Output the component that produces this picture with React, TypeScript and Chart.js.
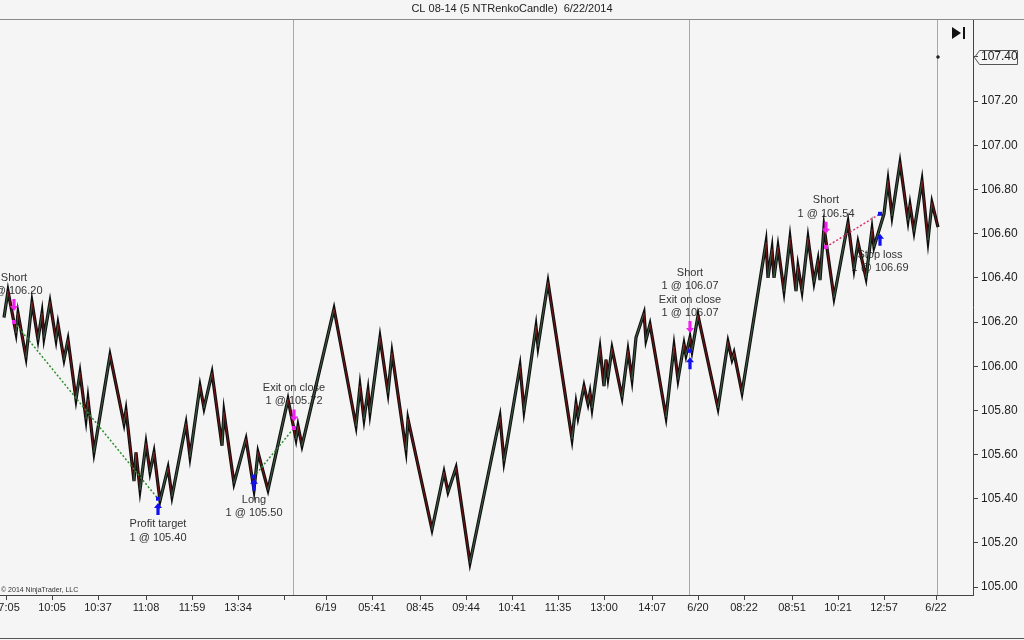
import React, { useEffect, useRef } from 'react';
import { Chart, registerables } from 'chart.js';

Chart.register(...registerables);

const TITLE = 'CL 08-14 (5 NTRenkoCandle)  6/22/2014';
const COPYRIGHT = '\u00A9 2014 NinjaTrader, LLC';

// Renko swing turning points: bar index and price
const swingBars = [
  2, 4, 8, 9, 13, 16, 19, 21, 22, 25, 28, 29, 32, 34, 38, 40, 43, 44, 47,
  55, 62, 63, 67, 68, 70, 73, 75, 77, 80, 84, 86, 93, 95, 100, 102, 106, 111,
  112, 117, 123, 127, 129, 134, 144, 148, 149, 151, 167, 178, 180, 182, 184,
  185, 190, 194, 196, 203, 204, 216, 222, 224, 228, 235, 250, 252, 260, 262,
  268, 269, 274, 286, 288, 289, 292, 294, 295, 296, 300, 302, 303, 304, 306,
  311, 314, 316, 318, 322, 323, 325, 333, 337, 339, 342, 343, 345, 346, 349,
  359, 364, 366, 367, 371, 383, 384, 386, 387, 389, 392, 395, 398, 399, 401,
  404, 407, 409, 410, 412, 417, 424, 427, 429, 433, 436, 437, 442, 444, 446,
  450, 454, 455, 457, 461, 464, 466, 469,
];
const swingPrices = [
  106.22, 106.34, 106.15, 106.24, 106.04, 106.29, 106.12, 106.24, 106.13,
  106.29, 106.12, 106.19, 106.03, 106.12, 105.85, 105.97, 105.76, 105.85,
  105.61, 106.05, 105.74, 105.8, 105.48, 105.61, 105.44, 105.65, 105.52,
  105.61, 105.39, 105.54, 105.41, 105.74, 105.59, 105.91, 105.81, 105.97,
  105.64, 105.79, 105.47, 105.67, 105.44, 105.61, 105.44, 105.85, 105.67,
  105.73, 105.64, 106.26, 105.73, 105.91, 105.76, 105.89, 105.79, 106.13,
  105.88, 106.06, 105.62, 105.76, 105.26, 105.52, 105.43, 105.54, 105.11,
  105.77, 105.57, 106.0, 105.8, 106.18, 106.09, 106.38, 105.67, 105.83,
  105.77, 105.91, 105.83, 105.88, 105.81, 106.08, 105.91, 106.03, 105.95,
  106.08, 105.86, 106.07, 105.94, 106.13, 106.24, 106.12, 106.19, 105.77,
  106.09, 105.94, 106.1, 106.05, 106.13, 106.07, 106.23, 105.81, 106.11,
  106.03, 106.06, 105.88, 106.56, 106.4, 106.53, 106.4, 106.54, 106.34,
  106.58, 106.34, 106.45, 106.34, 106.58, 106.38, 106.48, 106.39, 106.63,
  106.31, 106.65, 106.44, 106.56, 106.4, 106.62, 106.54, 106.69, 106.84,
  106.68, 106.92, 106.66, 106.73, 106.61, 106.84, 106.57, 106.74, 106.63,
];

const lastBar = 469;
const lastPrice = 107.4;

const yTickValues = [105.0, 105.2, 105.4, 105.6, 105.8, 106.0, 106.2, 106.4, 106.6, 106.8, 107.0, 107.2, 107.4];
const xTickBars = [3, 26, 49, 73, 96, 119, 142, 163, 186, 210, 233, 256, 279, 302, 326, 349, 372, 396, 419, 442, 468];
const xTickLabels = ['17:05', '10:05', '10:37', '11:08', '11:59', '13:34', '', '6/19', '05:41', '08:45', '09:44', '10:41', '11:35', '13:00', '14:07', '6/20', '08:22', '08:51', '10:21', '12:57', '6/22'];
const sessionBreakBars = [146.5, 344.5, 468.5];

// Executions
const execBars = [7, 79, 127, 147, 345, 345, 413, 440];
const execPrices = [106.2, 105.4, 105.5, 105.72, 106.07, 106.07, 106.54, 106.69];
const execSides = ['sell', 'buy', 'buy', 'sell', 'sell', 'buy', 'sell', 'buy'];
const execAnchors = [106.25, 105.38, 105.49, 105.75, 106.15, 106.04, 106.6, 106.6];
const execTexts = [
  ['Short', '1 @ 106.20'],
  ['Profit target', '1 @ 105.40'],
  ['Long', '1 @ 105.50'],
  ['Exit on close', '1 @ 105.72'],
  ['Short', '1 @ 106.07', 'Exit on close', '1 @ 106.07'],
  [],
  ['Short', '1 @ 106.54'],
  ['Stop loss', '1 @ 106.69'],
];
// trade connections: entry index, exit index, winning?
const tradeEntries = [0, 2, 6];
const tradeExits = [1, 3, 7];
const tradeWins = [true, true, false];

const BG = '#f5f5f5';
const FONT = '"Liberation Sans", Arial, sans-serif';

const swingData = swingBars.map((b, i) => ({ x: b, y: swingPrices[i] }));

function drawArrow(ctx: CanvasRenderingContext2D, x: number, tip: number, down: boolean, color: string) {
  const d = down ? -1 : 1;
  ctx.save();
  ctx.fillStyle = color;
  ctx.beginPath();
  ctx.moveTo(x, tip);
  ctx.lineTo(x + 4, tip + d * 5);
  ctx.lineTo(x + 1.6, tip + d * 5);
  ctx.lineTo(x + 1.6, tip + d * 12);
  ctx.lineTo(x - 1.6, tip + d * 12);
  ctx.lineTo(x - 1.6, tip + d * 5);
  ctx.lineTo(x - 4, tip + d * 5);
  ctx.closePath();
  ctx.fill();
  ctx.restore();
}

const decorPlugin = {
  id: 'decor',
  beforeDraw(chart: any) {
    const { ctx, width, height } = chart;
    ctx.save();
    ctx.fillStyle = BG;
    ctx.fillRect(0, 0, width, height);
    ctx.restore();
  },
  beforeDatasetsDraw(chart: any) {
    const { ctx, chartArea } = chart;
    const xs = chart.scales.x;
    const ys = chart.scales.y;
    ctx.save();
    ctx.strokeStyle = '#a8a8a8';
    ctx.lineWidth = 1;
    sessionBreakBars.forEach((b) => {
      const px = Math.round(xs.getPixelForValue(b)) + 0.5;
      ctx.beginPath();
      ctx.moveTo(px, chartArea.top);
      ctx.lineTo(px, chartArea.bottom);
      ctx.stroke();
    });
    ctx.font = `11px ${FONT}`;
    ctx.fillStyle = '#333';
    ctx.textAlign = 'center';
    ctx.textBaseline = 'middle';
    execBars.forEach((b, i) => {
      const lines = execTexts[i];
      if (!lines.length) return;
      const x = xs.getPixelForValue(b);
      const tip = ys.getPixelForValue(execAnchors[i]);
      if (execSides[i] === 'sell') {
        const last = tip - 12 - 8;
        lines.forEach((t, k) => {
          ctx.fillText(t, x, last - (lines.length - 1 - k) * 13.3);
        });
      } else {
        const first = tip + 12 + 9;
        lines.forEach((t, k) => {
          ctx.fillText(t, x, first + k * 13.5);
        });
      }
    });
    ctx.restore();
  },
  afterDatasetsDraw(chart: any) {
    const { ctx } = chart;
    const xs = chart.scales.x;
    const ys = chart.scales.y;
    execBars.forEach((b, i) => {
      const x = xs.getPixelForValue(b);
      const tip = ys.getPixelForValue(execAnchors[i]);
      const color = execSides[i] === 'sell' ? '#f020f0' : '#1010f0';
      drawArrow(ctx, x, tip, execSides[i] === 'sell', color);
      const py = ys.getPixelForValue(execPrices[i]);
      ctx.save();
      ctx.fillStyle = color;
      ctx.fillRect(x - 2, py - 2, 4, 4);
      ctx.restore();
    });
  },
  afterDraw(chart: any) {
    const { ctx, chartArea, width, height } = chart;
    const ys = chart.scales.y;
    ctx.save();
    ctx.font = `11px ${FONT}`;
    ctx.fillStyle = '#222';
    ctx.textAlign = 'center';
    ctx.textBaseline = 'middle';
    ctx.fillText(TITLE, width / 2, 9);
    ctx.strokeStyle = '#8a8a8a';
    ctx.lineWidth = 1;
    ctx.beginPath();
    ctx.moveTo(0, chartArea.top + 0.5);
    ctx.lineTo(width, chartArea.top + 0.5);
    ctx.stroke();
    ctx.strokeStyle = '#555';
    ctx.beginPath();
    ctx.moveTo(0, height - 1.5);
    ctx.lineTo(width, height - 1.5);
    ctx.stroke();
    ctx.font = `7px ${FONT}`;
    ctx.fillStyle = '#333';
    ctx.textAlign = 'left';
    ctx.fillText(COPYRIGHT, 1, chartArea.bottom - 5);
    const py = Math.round(ys.getPixelForValue(lastPrice)) + 0.5;
    const bx = chartArea.right + 0.5;
    ctx.strokeStyle = '#555';
    ctx.beginPath();
    ctx.moveTo(bx + 1, py);
    ctx.lineTo(bx + 6, py - 7);
    ctx.lineTo(bx + 44, py - 7);
    ctx.lineTo(bx + 44, py + 7);
    ctx.lineTo(bx + 6, py + 7);
    ctx.closePath();
    ctx.stroke();
    ctx.fillStyle = '#111';
    ctx.beginPath();
    ctx.moveTo(952, 27);
    ctx.lineTo(961, 33);
    ctx.lineTo(952, 39);
    ctx.closePath();
    ctx.fill();
    ctx.fillRect(963, 27, 2, 12);
    ctx.restore();
  },
};

export default function App() {
  const ref = useRef<HTMLCanvasElement>(null);
  useEffect(() => {
    document.body.style.margin = '0';
    const canvas = ref.current!;
    const upColor = '#3b5540';
    const downColor = '#6e1414';
    const chart = new Chart(canvas, {
      type: 'line',
      data: {
        datasets: [
          ...tradeEntries.map((e, i) => ({
            label: 'trade ' + i,
            data: [
              { x: execBars[e], y: execPrices[e] },
              { x: execBars[tradeExits[i]], y: execPrices[tradeExits[i]] },
            ],
            borderColor: tradeWins[i] ? '#2f8f2f' : '#e0306a',
            borderWidth: 1.5,
            borderDash: [2, 2],
            pointRadius: 0,
            order: 1,
          })),
          {
            label: 'last',
            data: [{ x: lastBar, y: lastPrice }],
            showLine: false,
            pointRadius: 1.5,
            pointStyle: 'rect',
            pointBackgroundColor: '#222',
            pointBorderColor: '#222',
            order: 2,
          },
          {
            label: 'renko color',
            data: swingData,
            borderWidth: 1.2,
            pointRadius: 0,
            borderJoinStyle: 'miter',
            segment: {
              borderColor: (c: any) => (c.p1.parsed.y < c.p0.parsed.y ? downColor : upColor),
            },
            order: 3,
          },
          {
            label: 'renko',
            data: swingData,
            borderColor: '#0e0e0e',
            borderWidth: 3.2,
            pointRadius: 0,
            borderJoinStyle: 'miter',
            order: 4,
          },
        ],
      },
      options: {
        responsive: false,
        animation: false,
        events: [],
        layout: { padding: { top: 19, left: 0, right: 0, bottom: 0 }, autoPadding: false },
        plugins: {
          legend: { display: false },
          tooltip: { enabled: false },
          title: { display: false },
        },
        elements: { line: { tension: 0 } },
        scales: {
          x: {
            type: 'linear',
            min: 0,
            max: 486.5,
            afterBuildTicks: (scale: any) => {
              scale.ticks = xTickBars.map((v) => ({ value: v }));
            },
            afterFit: (scale: any) => {
              scale.height = 45;
              scale.paddingLeft = 0;
              scale.paddingRight = 0;
            },
            grid: { drawOnChartArea: false, drawTicks: true, tickLength: 5, color: '#444' },
            border: { display: true, color: '#444' },
            ticks: {
              autoSkip: false,
              maxRotation: 0,
              minRotation: 0,
              padding: 1,
              color: '#222',
              font: { family: FONT, size: 11 },
              callback: (_v: any, i: number) => xTickLabels[i],
            },
          },
          y: {
            type: 'linear',
            position: 'right',
            min: 104.964,
            max: 107.572,
            afterBuildTicks: (scale: any) => {
              scale.ticks = yTickValues.map((v) => ({ value: v }));
            },
            afterFit: (scale: any) => {
              scale.width = 51;
              scale.paddingTop = 0;
              scale.paddingBottom = 0;
            },
            grid: { drawOnChartArea: false, drawTicks: true, tickLength: 5, color: '#444' },
            border: { display: true, color: '#444' },
            ticks: {
              padding: 3,
              color: '#222',
              font: { family: FONT, size: 12 },
              callback: (v: any) => Number(v).toFixed(2),
            },
          },
        },
      },
      plugins: [decorPlugin],
    } as any);
    return () => chart.destroy();
  }, []);
  return (
    <div style={{ position: 'fixed', left: 0, top: 0, width: 1024, height: 640, background: BG }}>
      <canvas ref={ref} width={1024} height={640} style={{ display: 'block' }} />
    </div>
  );
}
